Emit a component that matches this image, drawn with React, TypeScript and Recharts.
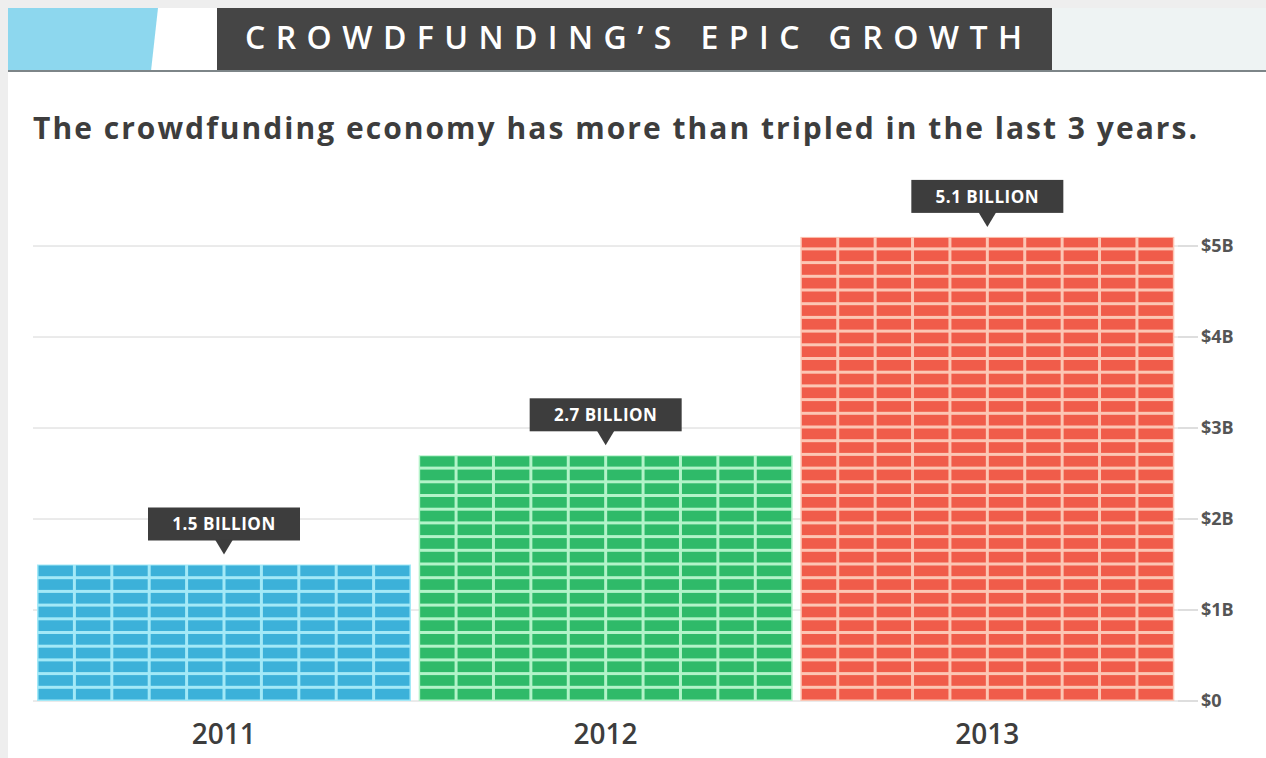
import React from "react";
import { BarChart, Bar, XAxis, YAxis, CartesianGrid, LabelList } from "recharts";

// values in billions of USD
const years = ["2011", "2012", "2013"];
const amounts = [1.5, 2.7, 5.1];
const amountLabels = ["1.5 BILLION", "2.7 BILLION", "5.1 BILLION"];
const yTicks = [0, 1, 2, 3, 4, 5];
const yTickLabels = ["$0", "$1B", "$2B", "$3B", "$4B", "$5B"];
const tileColors = ["#3cb1d9", "#2fba69", "#f05c4a"];
const gapColors = ["#a3e9f7", "#b3f3c9", "#fcc6b4"];

const data = years.map((year, i) => ({
  year,
  amount: amounts[i],
  label: amountLabels[i],
  idx: i,
}));

const FONT = "'Open Sans', Lato, sans-serif";

// bar drawn as a wall of small bricks, stacked up from the baseline
const TiledBar = (props: any) => {
  const { x, y, width, height, payload } = props;
  if (!height || height <= 0) return null;
  const i = payload.idx;
  const cols = 10;
  const rowH = 13.7;
  const gap = 3;
  const colW = width / cols;
  const rows = Math.ceil(height / rowH);
  const tiles: React.ReactNode[] = [];
  for (let r = 0; r < rows; r++) {
    const bottom = y + height - r * rowH - gap / 2;
    const top = Math.max(y + 1, bottom - rowH + gap);
    if (bottom - top < 1) continue;
    for (let c = 0; c < cols; c++) {
      tiles.push(
        <rect
          key={r + "-" + c}
          x={x + c * colW + gap / 2}
          y={top}
          width={colW - gap}
          height={bottom - top}
          fill={tileColors[i]}
        />
      );
    }
  }
  return (
    <g>
      <rect x={x} y={y} width={width} height={height} fill={gapColors[i]} />
      {tiles}
    </g>
  );
};

const Callout = (props: any) => {
  const { x, y, width, value } = props;
  const cx = x + width / 2;
  const boxW = 152;
  const boxH = 33;
  const boxBottom = y - 24;
  return (
    <g>
      <rect x={cx - boxW / 2} y={boxBottom - boxH} width={boxW} height={boxH} fill="#3d3d3d" />
      <polygon
        points={`${cx - 9},${boxBottom - 1} ${cx + 9},${boxBottom - 1} ${cx},${boxBottom + 14}`}
        fill="#3d3d3d"
      />
      <text
        x={cx}
        y={boxBottom - boxH / 2}
        dy="0.36em"
        textAnchor="middle"
        fill="#ffffff"
        fontSize={17}
        fontWeight={700}
        letterSpacing={0.5}
        fontFamily={FONT}
      >
        {value}
      </text>
    </g>
  );
};

export default function App() {
  return (
    <div style={{ position: "absolute", left: 0, top: 0, width: 1266, height: 758, background: "#fff" }}>
      <svg width={1266} height={758} style={{ position: "absolute", left: 0, top: 0 }}>
        <rect x={0} y={0} width={1266} height={8} fill="#eeeeee" />
        <rect x={0} y={0} width={8} height={758} fill="#eeeeee" />
        <polygon points="8,8 158,8 151,71 8,71" fill="#8dd7ee" />
        <rect x={217} y={8} width={835} height={63} fill="#454545" />
        <rect x={1052} y={8} width={214} height={63} fill="#eef3f3" />
        <rect x={8} y={70} width={1258} height={2} fill="#7d8588" />
        <text
          x={245}
          y={49}
          textLength={777}
          lengthAdjust="spacing"
          fill="#ffffff"
          fontSize={32}
          fontWeight={600}
          fontFamily={FONT}
        >
          CROWDFUNDING’S EPIC GROWTH
        </text>
        <text
          x={33}
          y={139}
          textLength={1164}
          lengthAdjust="spacing"
          fill="#3d3d3d"
          fontSize={30}
          fontWeight={700}
          fontFamily={FONT}
        >
          The crowdfunding economy has more than tripled in the last 3 years.
        </text>
      </svg>
      <div style={{ position: "absolute", left: 0, top: 0 }}>
        <BarChart
          width={1266}
          height={758}
          data={data}
          margin={{ top: 200.5, right: 0, bottom: 17, left: 33 }}
          barCategoryGap={4}
        >
          <CartesianGrid
            vertical={false}
            stroke="#d6d6d6"
            horizontalValues={yTicks}
          />
          <XAxis
            dataKey="year"
            axisLine={false}
            tickLine={false}
            tickSize={0}
            tickMargin={23}
            height={40}
            tick={{ fill: "#3d3d3d", fontSize: 28, fontWeight: 600, fontFamily: FONT }}
          />
          <YAxis
            orientation="right"
            width={88}
            domain={[0, 5.5]}
            ticks={yTicks}
            axisLine={false}
            tickSize={20}
            tickMargin={3}
            tickLine={{ stroke: "#bdbdbd" }}
            tickFormatter={(v: number) => yTickLabels[yTicks.indexOf(v)]}
            tick={{ fill: "#555555", fontSize: 18, fontWeight: 700, fontFamily: FONT, textAnchor: "start" }}
          />
          <Bar dataKey="amount" shape={TiledBar} isAnimationActive={false}>
            <LabelList dataKey="label" content={Callout} />
          </Bar>
        </BarChart>
      </div>
    </div>
  );
}
